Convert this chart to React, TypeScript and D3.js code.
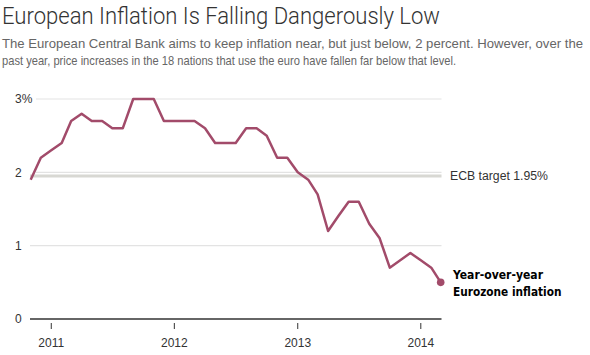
import React from "react";
import * as d3 from "d3";

const startMonth = new Date(2010, 10, 1);
const inflation: number[] = [
  1.9, 2.2,
  2.3, 2.4, 2.7, 2.8, 2.7, 2.7, 2.6, 2.6, 3.0, 3.0, 3.0, 2.7,
  2.7, 2.7, 2.7, 2.6, 2.4, 2.4, 2.4, 2.6, 2.6, 2.5, 2.2, 2.2,
  2.0, 1.9, 1.7, 1.2, 1.4, 1.6, 1.6, 1.3, 1.1, 0.7, 0.8, 0.9,
  0.8, 0.7, 0.5,
];
const yTicks: number[] = [0, 1, 2, 3];
const yTickLabels: string[] = ["0", "1", "2", "3%"];
const xTickYears: number[] = [2011, 2012, 2013, 2014];
const ecbTarget = 1.95;

const title = "European Inflation Is Falling Dangerously Low";
const subtitle1 =
  "The European Central Bank aims to keep inflation near, but just below, 2 percent. However, over the";
const subtitle2 =
  "past year, price increases in the 18 nations that use the euro have fallen far below that level.";

const SANS = "'Liberation Sans', Arial, sans-serif";
const TITLE_FONT = "Roboto, 'Liberation Sans', sans-serif";
const BOLD_FONT = "'DejaVu Sans Condensed', 'Liberation Sans Narrow', sans-serif";

export default function App() {
  const data = inflation.map((v, i) => ({
    date: d3.timeMonth.offset(startMonth, i),
    value: v,
  }));
  const x = d3
    .scaleTime()
    .domain([data[0].date, data[data.length - 1].date])
    .range([30.7, 440.7]);
  const y = d3.scaleLinear().domain([0, 3]).range([319, 99]);
  const line = d3
    .line<{ date: Date; value: number }>()
    .x((d) => x(d.date))
    .y((d) => y(d.value));
  const last = data[data.length - 1];
  const xLeft = 30;
  const xRight = 441.5;

  return (
    <svg
      width={590}
      height={355}
      style={{ position: "absolute", left: 0, top: 0, background: "#fff" }}
      fontFamily={SANS}
    >
      <text x={2} y={23.5} fontSize={23} fill="#333" fontWeight={300} fontFamily={TITLE_FONT} textLength={438} lengthAdjust="spacingAndGlyphs">
        {title}
      </text>
      <text x={2} y={47.5} fontSize={12.6} fill="#666" textLength={581} lengthAdjust="spacingAndGlyphs">
        {subtitle1}
      </text>
      <text x={2} y={64.5} fontSize={12.6} fill="#666" textLength={454} lengthAdjust="spacingAndGlyphs">
        {subtitle2}
      </text>

      {yTicks.map((t) =>
        t === 0 ? null : (
          <line
            key={"g" + t}
            x1={t === 1 ? xLeft : 36}
            x2={xRight}
            y1={y(t)}
            y2={y(t)}
            stroke="#e3e3e3"
            strokeWidth={1.2}
          />
        )
      )}
      <line x1={xLeft} x2={xRight} y1={y(ecbTarget)} y2={y(ecbTarget)} stroke="#d8d8d3" strokeWidth={3} />
      <text x={450} y={180} fontSize={12} fill="#333" textLength={98} lengthAdjust="spacingAndGlyphs">
        ECB target 1.95%
      </text>

      {yTicks.map((t, i) => (
        <text key={"yl" + t} x={15} y={y(t)} dy="0.35em" fontSize={12} fill="#333">
          {yTickLabels[i]}
        </text>
      ))}

      <line x1={xLeft} x2={xRight} y1={y(0)} y2={y(0)} stroke="#666" strokeWidth={2} />
      {xTickYears.map((yr) => {
        const xp = x(new Date(yr, 0, 1));
        return (
          <g key={"xt" + yr}>
            <line x1={xp} x2={xp} y1={323} y2={329} stroke="#333" strokeWidth={1} />
            <text x={xp} y={346.5} fontSize={12} fill="#333" textAnchor="middle">
              {yr}
            </text>
          </g>
        );
      })}

      <path d={line(data) || ""} fill="none" stroke="#a24b6a" strokeWidth={2.5} strokeLinejoin="round" />
      <circle cx={x(last.date)} cy={y(last.value)} r={3.8} fill="#a24b6a" />

      <text x={453} y={279} fontSize={13} fontWeight={700} fill="#000" fontFamily={BOLD_FONT} textLength={90} lengthAdjust="spacingAndGlyphs">
        Year-over-year
      </text>
      <text x={453} y={296} fontSize={13} fontWeight={700} fill="#000" fontFamily={BOLD_FONT} textLength={108.5} lengthAdjust="spacingAndGlyphs">
        Eurozone inflation
      </text>
    </svg>
  );
}
